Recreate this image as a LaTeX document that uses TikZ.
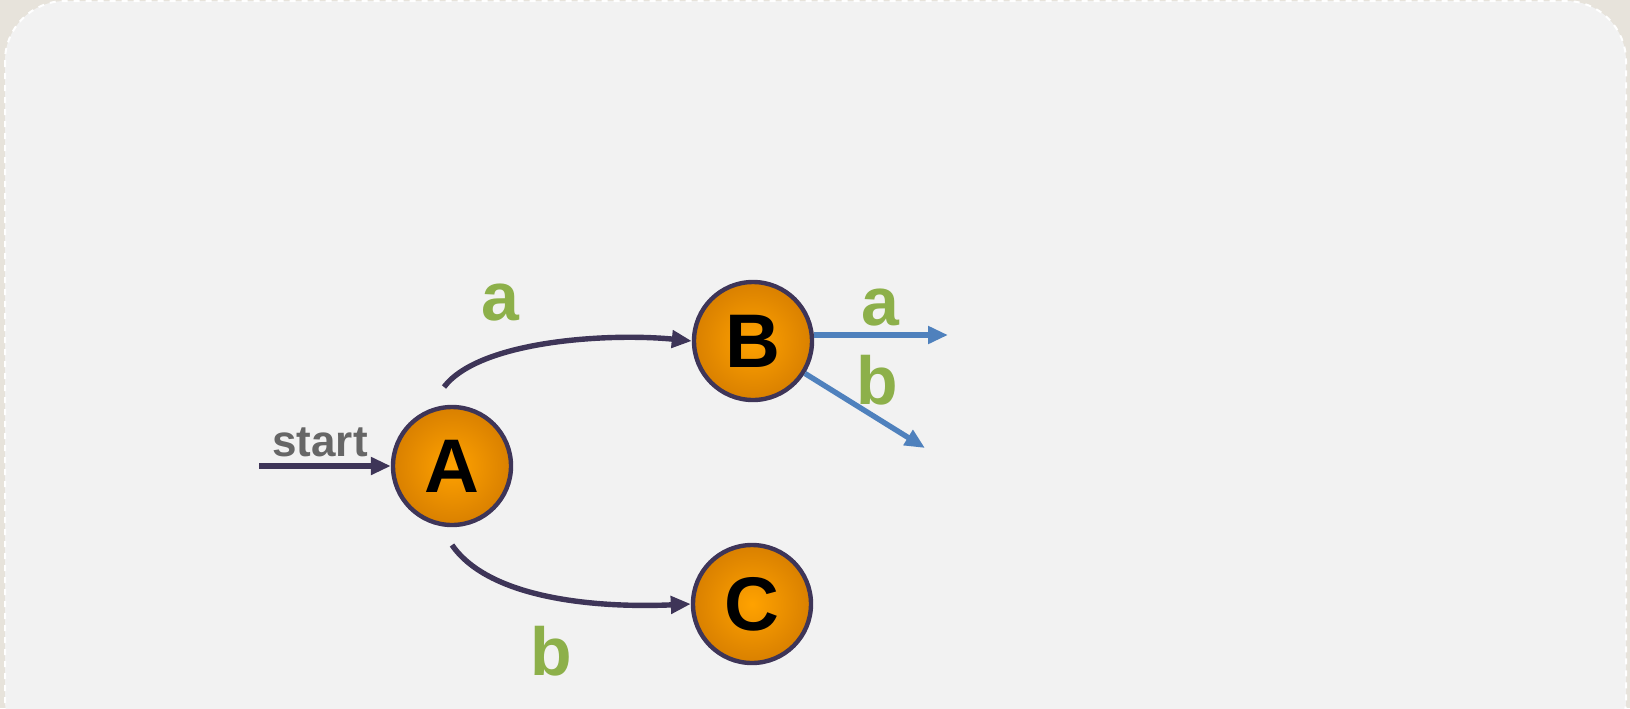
\documentclass[tikz,border=0pt]{standalone}
\usepackage{fontspec}
\setmainfont{Liberation Sans}
\usetikzlibrary{arrows.meta}
\definecolor{outerbg}{HTML}{E7E3DB}
\definecolor{panel}{HTML}{F2F2F2}
\definecolor{edgepurple}{HTML}{3E3558}
\definecolor{edgeblue}{HTML}{4F81BD}
\definecolor{lblgreen}{HTML}{8DB04A}
\definecolor{startgray}{HTML}{666666}
\definecolor{orin}{HTML}{FFA200}
\definecolor{orout}{HTML}{D98000}
\tikzset{
  state/.style={circle, draw=edgepurple, line width=2.2pt, inner color=orin, outer color=orout,
    minimum size=59pt, inner sep=0pt, font=\fontsize{38}{38}\selectfont\bfseries, text=black},
  darc/.style={draw=edgepurple, line width=2.7pt, -{Triangle[length=10pt,width=8.5pt]}},
  barc/.style={draw=edgeblue, line width=2.7pt, -{Triangle[length=10pt,width=8.5pt]}},
  lbl/.style={font=\fontsize{34}{34}\selectfont\bfseries, text=lblgreen, inner sep=0pt},
  startlbl/.style={font=\fontsize{22}{22}\selectfont\bfseries, text=startgray, inner sep=0pt}
}
\begin{document}
\begin{tikzpicture}[x=0.5pt,y=-0.5pt]
\useasboundingbox (0,0) rectangle (1630,708);
\fill[outerbg] (0,0) rectangle (1630,708);
\draw[fill=panel, draw=white, dashed, line width=1pt, rounded corners=30pt]
  (5,1) rectangle (1626,760);
% nodes
\node[state] (A) at (452,466) {A};
\node[state] (B) at (753,341) {B};
\node[state] (C) at (752,604) {C};
\coordinate (s0) at (259,466);
\coordinate (a0) at (444,387);
\coordinate (c0) at (452,545);
\coordinate (ba) at (948,335);
\coordinate (bb) at (925,448);
% edges
\draw[darc] (s0) -- (A.west);
\node[startlbl] (st) at (320,442) {start};
\draw[darc] (a0) .. controls (480,340) and (610,333) .. (B.west);
\draw[darc] (c0) .. controls (490,600) and (600,608) .. (C.west);
\draw[barc] (B.east |- ba) -- (ba);
\draw[barc] (B.-32) -- (bb);
% labels
\node[lbl] (la1) at (500,303) {a};
\node[lbl] (lb1) at (551,651) {b};
\node[lbl] (la2) at (880,308) {a};
\node[lbl] (lb2) at (877,380) {b};
\end{tikzpicture}
\end{document}
